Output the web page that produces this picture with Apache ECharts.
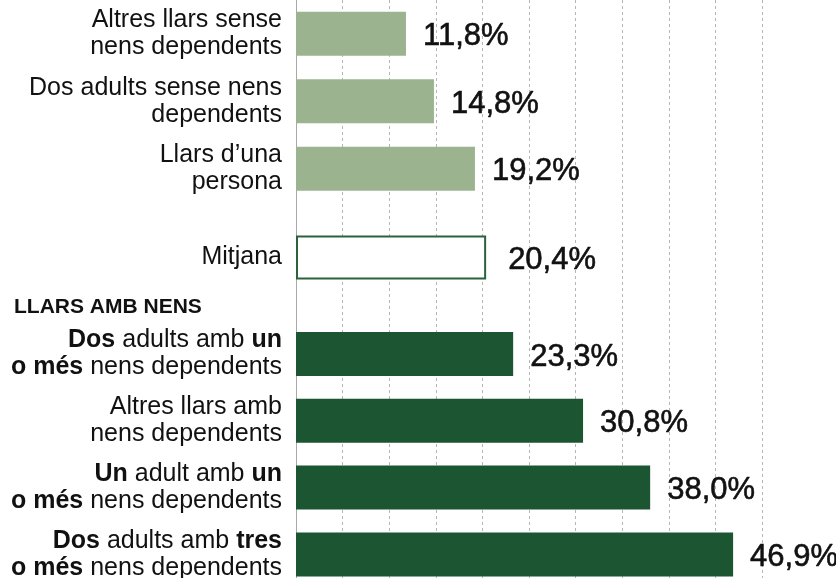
<!DOCTYPE html>
<html>
<head>
<meta charset="utf-8">
<script src="https://cdn.jsdelivr.net/npm/echarts@6/dist/echarts.min.js"></script>
<style>
    html, body { margin: 0; padding: 0; background: #fff; }
    #chart { width: 836px; height: 578px; }
</style>
</head>
<body>
<div id="chart"></div>
<script>
// llars sense nens
const labelsSense = [
    'Altres llars sense\nnens dependents',
    'Dos adults sense nens\ndependents',
    'Llars d\u2019una\npersona'
]
const valuesSense = [11.8, 14.8, 19.2]
// mitjana
const labelsMitjana = ['Mitjana']
const valuesMitjana = [20.4]
// llars amb nens
const headerNens = 'LLARS AMB NENS'
const labelsNens = [
    '{b|Dos} adults amb {b|un}\n{b|o més} nens dependents',
    'Altres llars amb\nnens dependents',
    '{b|Un} adult amb {b|un}\n{b|o més} nens dependents',
    '{b|Dos} adults amb {b|tres}\n{b|o més} nens dependents'
]
const valuesNens = [23.3, 30.8, 38.0, 46.9]
// eix x
const xMin = 0
const xMax = 50
const xStep = 5

const FONT = '"Liberation Sans", Arial, sans-serif'
const colorClar = '#9bb38f'
const colorFosc = '#1b5531'

let chart = echarts.init(document.getElementById('chart'))

function fmtPct (p) {
    return p.value.toFixed(1).replace('.', ',') + '%'
}

// xifres: pes "medium" fet amb un contorn fi
let valueLabel = {
    show: true,
    position: 'right',
    distance: 17,
    offset: [0, 3],
    formatter: fmtPct,
    fontFamily: FONT,
    fontSize: 31,
    fontWeight: 'normal',
    color: '#111',
    textBorderColor: '#111',
    textBorderWidth: 0.6
}

let catLabel = {
    fontFamily: FONT,
    fontSize: 25,
    lineHeight: 27,
    color: '#111',
    margin: 14,
    rich: {
        b: { fontFamily: FONT, fontSize: 25, lineHeight: 27, fontWeight: 'bold', color: '#111' }
    }
}

function catAxis (idx, data) {
    return {
        gridIndex: idx,
        type: 'category',
        inverse: true,
        data: data,
        axisLine: { show: false },
        axisTick: { show: false },
        splitLine: { show: false },
        axisLabel: catLabel
    }
}

function hiddenX (idx) {
    return {
        gridIndex: idx,
        type: 'value',
        min: xMin,
        max: xMax,
        interval: xStep,
        show: false
    }
}

function makeGrid (top, height) {
    let g = { left: 296, right: 74, top: top, outerBoundsMode: 'none', containLabel: false }
    if (height == null) {
        g.bottom = 0
    } else {
        g.height = height
    }
    return g
}

let option = {
    animation: false,
    textStyle: { fontFamily: FONT },
    grid: [
        makeGrid(0), // fons: graella + eix
        makeGrid(0, 202.5),
        makeGrid(224, 67),
        makeGrid(320.6, 267.2)
    ],
    graphic: [{
        type: 'text',
        left: 14,
        top: 297,
        style: {
            text: headerNens,
            fontFamily: FONT,
            fontSize: 21,
            fontWeight: 'bold',
            fill: '#111'
        }
    }],
    xAxis: [
        {
            gridIndex: 0,
            type: 'value',
            min: xMin,
            max: xMax,
            interval: xStep,
            axisLine: { show: false },
            axisTick: { show: false },
            axisLabel: { show: false },
            splitLine: {
                show: true,
                showMinLine: false,
                showMaxLine: true,
                lineStyle: { color: '#b5b5b5', type: [3, 3], width: 1 }
            }
        },
        hiddenX(1),
        hiddenX(2),
        hiddenX(3)
    ],
    yAxis: [
        {
            gridIndex: 0,
            type: 'value',
            min: 0,
            max: 1,
            axisLine: { show: true, lineStyle: { color: '#a8a8a8', width: 1 } },
            axisTick: { show: false },
            axisLabel: { show: false },
            splitLine: { show: false }
        },
        catAxis(1, labelsSense),
        catAxis(2, labelsMitjana),
        catAxis(3, labelsNens)
    ],
    series: [
        {
            type: 'bar',
            xAxisIndex: 1,
            yAxisIndex: 1,
            data: valuesSense,
            barWidth: 44,
            itemStyle: { color: colorClar },
            label: valueLabel
        },
        {
            type: 'bar',
            xAxisIndex: 2,
            yAxisIndex: 2,
            data: valuesMitjana,
            barWidth: 44,
            itemStyle: { color: '#fff', borderColor: '#2a6339', borderWidth: 2 },
            label: Object.assign({}, valueLabel, { distance: 22 })
        },
        {
            type: 'bar',
            xAxisIndex: 3,
            yAxisIndex: 3,
            data: valuesNens,
            barWidth: 44,
            itemStyle: { color: colorFosc },
            label: valueLabel
        }
    ]
}

chart.setOption(option)
</script>
</body>
</html>
